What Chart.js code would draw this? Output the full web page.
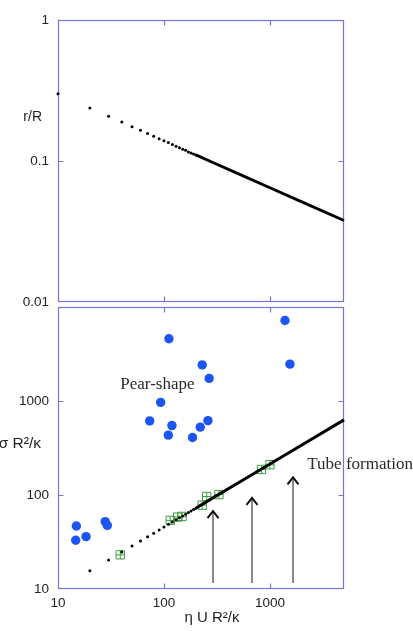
<!DOCTYPE html>
<html>
<head>
<meta charset="utf-8">
<script src="https://cdn.jsdelivr.net/npm/chart.js@4/dist/chart.umd.min.js"></script>
<style>
html,body{margin:0;padding:0;background:#fff;}
#wrap{position:relative;width:413px;height:631px;overflow:hidden;background:#fff;}
#wrap canvas{position:absolute;left:0;top:0;}
</style>
</head>
<body>
<div id="wrap">
  <canvas id="topChart" width="413" height="631"></canvas>
  <canvas id="botChart" width="413" height="631"></canvas>
</div>
<script>
// ---------- axis ticks ----------
const xTickValues = [10, 100, 1000];
const xTickLabels = ['10', '100', '1000'];
const topTickValues = [0.01, 0.1, 1];
const topTickLabels = ['0.01', '0.1', '1'];
const botTickValues = [10, 100, 1000];
const botTickLabels = ['10', '100', '1000'];

// ---------- top panel: r/R ----------
const radiusDotsX = [10, 20, 30, 40, 50, 60, 70, 80, 90, 100, 110, 120, 130, 140, 150, 160, 170, 180, 190, 200];
const radiusDotsY = [0.300, 0.238, 0.208, 0.189, 0.175, 0.165, 0.157, 0.150, 0.144, 0.139, 0.135, 0.131, 0.127, 0.124, 0.121, 0.119, 0.116, 0.114, 0.112, 0.1105];
const radiusLineX = [200, 300, 500, 1000, 2000, 5000];
const radiusLineY = [0.1105, 0.0965, 0.0814, 0.0646, 0.0513, 0.0378];

// ---------- bottom panel: sigma R^2/kappa ----------
const tensionDotsX = [20, 30, 40, 50, 60, 70, 80, 90, 100, 110, 120, 130, 140, 150, 160, 170, 180, 190, 200];
const tensionDotsY = [15.6, 20.4, 24.7, 28.7, 32.4, 35.9, 39.3, 42.5, 45.7, 48.7, 51.6, 54.4, 57.2, 59.9, 62.5, 65.1, 67.6, 70.0, 72.4];
const tensionLineX = [200, 300, 500, 1000, 2000, 5000];
const tensionLineY = [72.4, 95.5, 134, 214, 340, 630];

const tubeX = [38.7, 114.6, 134.6, 148, 229.6, 253, 330, 831, 1000];
const tubeY = [23.1, 53.7, 58.2, 59.2, 78, 96.4, 101, 187, 210];

const pearX = [14.9, 14.7, 18.4, 27.9, 29.2, 73.3, 93.1, 109.9, 118.9, 111.4, 186, 220, 260, 229.6, 267, 1386, 1545];
const pearY = [46.8, 33, 36.1, 52, 47.5, 614, 968, 433, 548, 4600, 409, 527, 619, 2420, 1740, 7190, 2466];

const arrowX = [292, 681, 1660];
const arrowTopY = [67.5, 93.3, 154];
const arrowBaseY = [11.6, 11.6, 11.6];

const noteTexts = ['Pear-shape', 'Tube formation'];
const noteX = [86.7, 2254];
const noteY = [1355, 188];

// ---------- styles ----------
const FRAME = 'rgb(118,118,218)';
const SANS = '"Liberation Sans", Arial, sans-serif';
const SERIF = '"Liberation Serif", "Times New Roman", serif';
Chart.defaults.font.family = SANS;
Chart.defaults.color = '#222';

function pts(xs, ys) { return xs.map((x, i) => ({x: x, y: ys[i]})); }

function fixTicks(values) {
  return function(scale) { scale.ticks = values.map(v => ({value: v})); };
}

const framePlugin = {
  id: 'frame',
  beforeDatasetsDraw(chart) {
    const {ctx, chartArea: a, scales} = chart;
    const L = Math.round(a.left) + 0.5, R = Math.round(a.right) - 0.5;
    const T = Math.round(a.top) + 0.5, B = Math.round(a.bottom) - 0.5;
    ctx.save();
    ctx.strokeStyle = FRAME;
    ctx.lineWidth = 1.2;
    ctx.strokeRect(L, T, R - L, B - T);
    const len = 5;
    ctx.beginPath();
    xTickValues.forEach(v => {
      const px = Math.round(scales.x.getPixelForValue(v)) + 0.5;
      if (px <= L + 1 || px >= R - 1) return;
      ctx.moveTo(px, T); ctx.lineTo(px, T + len);
      ctx.moveTo(px, B); ctx.lineTo(px, B - len);
    });
    scales.y.ticks.forEach(t => {
      const py = Math.round(scales.y.getPixelForValue(t.value)) + 0.5;
      if (py <= T + 1 || py >= B - 1) return;
      ctx.moveTo(L, py); ctx.lineTo(L + len, py);
      ctx.moveTo(R, py); ctx.lineTo(R - len, py);
    });
    ctx.stroke();
    ctx.restore();
  }
};

const topTitlePlugin = {
  id: 'topTitle',
  afterDraw(chart) {
    const ctx = chart.ctx;
    ctx.save();
    ctx.fillStyle = '#222';
    ctx.font = '14px ' + SANS;
    ctx.textAlign = 'right';
    ctx.textBaseline = 'middle';
    ctx.fillText('r/R', 42, 117);
    ctx.restore();
  }
};

const botNotesPlugin = {
  id: 'botNotes',
  afterDatasetsDraw(chart) {
    const {ctx, scales} = chart;
    ctx.save();
    // arrows
    arrowX.forEach((v, i) => {
      const x = Math.round(scales.x.getPixelForValue(v));
      const yb = scales.y.getPixelForValue(arrowBaseY[i]);
      const yt = scales.y.getPixelForValue(arrowTopY[i]);
      ctx.strokeStyle = '#8a8a8a';
      ctx.lineWidth = 2;
      ctx.beginPath();
      ctx.moveTo(x, yb); ctx.lineTo(x, yt + 1);
      ctx.stroke();
      ctx.strokeStyle = '#111';
      ctx.lineWidth = 2;
      ctx.beginPath();
      ctx.moveTo(x - 5.5, yt + 7); ctx.lineTo(x, yt); ctx.lineTo(x + 5.5, yt + 7);
      ctx.stroke();
    });
    // notes
    ctx.fillStyle = '#2a2a2a';
    ctx.font = '17px ' + SERIF;
    ctx.textBaseline = 'alphabetic';
    noteTexts.forEach((t, i) => {
      ctx.textAlign = i === 0 ? 'center' : 'left';
      ctx.fillText(t, scales.x.getPixelForValue(noteX[i]), scales.y.getPixelForValue(noteY[i]));
    });
    // axis titles
    ctx.fillStyle = '#222';
    ctx.font = '15.5px ' + SANS;
    ctx.textAlign = 'right';
    ctx.textBaseline = 'middle';
    ctx.fillText('\u03C3 R\u00B2/\u03BA', 41, 444);
    ctx.font = '15px ' + SANS;
    ctx.textAlign = 'center';
    ctx.fillText('\u03B7 U R\u00B2/\u03BA', 212, 618);
    ctx.restore();
  }
};

const commonOpts = {
  responsive: false,
  animation: false,
  events: [],
  plugins: {legend: {display: false}, tooltip: {enabled: false}}
};

function yAxis(min, max, values, labels) {
  return {
    type: 'logarithmic', min: min, max: max,
    grid: {display: false, drawTicks: false},
    border: {display: false},
    afterBuildTicks: fixTicks(values),
    afterFit: function(s) { s.width = 58; s.paddingTop = 0; s.paddingBottom = 0; },
    ticks: {
      padding: 9, font: {size: 13.5}, color: '#222',
      callback: function(v, i) { return labels[values.indexOf(v)] !== undefined ? labels[values.indexOf(v)] : ''; }
    }
  };
}

new Chart(document.getElementById('topChart'), {
  type: 'scatter',
  data: {
    datasets: [
      {data: pts(radiusLineX, radiusLineY), showLine: true, borderColor: '#000', borderWidth: 2.8, pointRadius: 0, clip: false},
      {data: pts(radiusDotsX, radiusDotsY), pointRadius: 1.5, backgroundColor: '#000', borderWidth: 0, clip: false}
    ]
  },
  options: Object.assign({}, commonOpts, {
    layout: {padding: {top: 20, bottom: 329, left: 0, right: 69}},
    scales: {
      x: {type: 'logarithmic', min: 10, max: 5000, display: false},
      y: yAxis(0.01, 1, topTickValues, topTickLabels)
    }
  }),
  plugins: [framePlugin, topTitlePlugin]
});

new Chart(document.getElementById('botChart'), {
  type: 'scatter',
  data: {
    datasets: [
      {data: pts(pearX, pearY), pointRadius: 4.7, backgroundColor: '#1d55f2', borderWidth: 0, clip: false},
      {data: pts(tensionLineX, tensionLineY), showLine: true, borderColor: '#000', borderWidth: 3, pointRadius: 0, clip: false},
      {data: pts(tensionDotsX, tensionDotsY), pointRadius: 1.5, backgroundColor: '#000', borderWidth: 0, clip: false},
      {data: pts(tubeX, tubeY), pointStyle: 'rect', pointRadius: 5.9, borderColor: '#3f9b3f', borderWidth: 1, backgroundColor: 'rgba(0,0,0,0)', clip: false},
      {data: pts(tubeX, tubeY), pointStyle: 'cross', pointRadius: 4.2, borderColor: '#3f9b3f', borderWidth: 1, backgroundColor: 'rgba(0,0,0,0)', clip: false}
    ]
  },
  options: Object.assign({}, commonOpts, {
    layout: {padding: {top: 307, bottom: 0, left: 0, right: 69}},
    scales: {
      x: {
        type: 'logarithmic', min: 10, max: 5000,
        grid: {display: false, drawTicks: false},
        border: {display: false},
        afterBuildTicks: fixTicks(xTickValues),
        afterFit: function(s) { s.height = 42; s.paddingLeft = 0; s.paddingRight = 0; },
        ticks: {
          padding: 6, font: {size: 13.5}, color: '#222', maxRotation: 0, autoSkip: false,
          callback: function(v, i) { return xTickLabels[xTickValues.indexOf(v)] !== undefined ? xTickLabels[xTickValues.indexOf(v)] : ''; }
        }
      },
      y: yAxis(10, 10000, botTickValues, botTickLabels)
    }
  }),
  plugins: [framePlugin, botNotesPlugin]
});
</script>
</body>
</html>
